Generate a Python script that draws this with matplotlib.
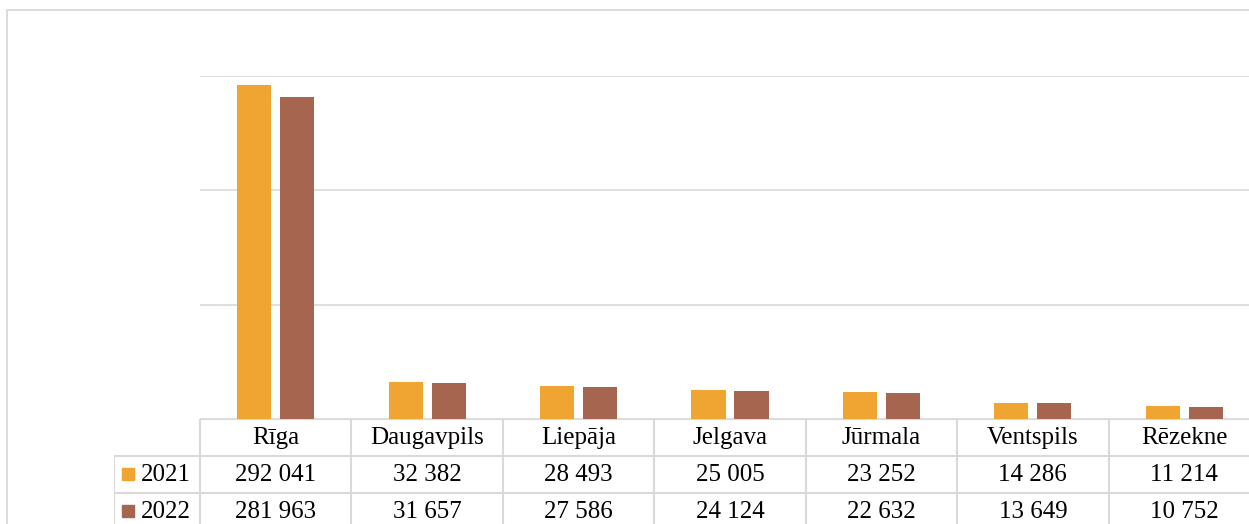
import numpy as np
import matplotlib
matplotlib.use('Agg')
import matplotlib.pyplot as plt
from matplotlib.patches import Rectangle

# data
cities = ['Rīga', 'Daugavpils', 'Liepāja', 'Jelgava', 'Jūrmala', 'Ventspils', 'Rēzekne']
years = ['2021', '2022']
vals_2021 = [292041, 32382, 28493, 25005, 23252, 14286, 11214]
vals_2022 = [281963, 31657, 27586, 24124, 22632, 13649, 10752]
colors = ['#F0A431', '#A6654F']
grid_c = '#d9d9d9'

plt.rcParams['font.family'] = ['Liberation Serif', 'DejaVu Serif']

W, H = 1249, 524
fig = plt.figure(figsize=(W / 100, H / 100), dpi=100)


def px_box(x0, y0, x1, y1):
    # pixel box (top-left origin) -> figure fraction
    return [x0 / W, 1 - y1 / H, (x1 - x0) / W, (y1 - y0) / H]


# outer chart border (runs off the right and bottom edge)
fig.add_artist(Rectangle((7 / W, 1 - 540 / H), 1260 / W, 530 / H,
                         transform=fig.transFigure, fill=False,
                         edgecolor=grid_c, linewidth=1.3))

ax = fig.add_axes(px_box(200, 76, 1260, 419))
x = np.arange(len(cities))
w = 0.225
ax.bar(x - 0.142, vals_2021, w, color=colors[0], zorder=3)
ax.bar(x + 0.142, vals_2022, w, color=colors[1], zorder=3)
ax.set_xlim(-0.5, len(cities) - 0.5)
ax.set_ylim(0, 300000)
ax.set_yticks([0, 100000, 200000, 300000])
ax.grid(axis='y', color=grid_c, linewidth=1.2)
ax.tick_params(left=False, bottom=False, labelleft=False, labelbottom=False)
for s in ax.spines.values():
    s.set_visible(False)

# data table below the plot
unit = 1060 / len(cities)
leg_w = 86 / unit
tab = fig.add_axes(px_box(114, 419, 1260, 530))
tab.set_xlim(-0.5 - leg_w, len(cities) - 0.5)
tab.set_ylim(3, 0)
tab.axis('off')

lk = dict(color=grid_c, linewidth=1.5, solid_capstyle='projecting')
# horizontal rules
tab.plot([-0.5, len(cities) - 0.5], [0, 0], **lk)
for r in [1, 2, 3]:
    tab.plot([-0.5 - leg_w, len(cities) - 0.5], [r, r], **lk)
# vertical rules
tab.plot([-0.5 - leg_w, -0.5 - leg_w], [1, 3], **lk)
for i in range(len(cities) + 1):
    tab.plot([i - 0.5, i - 0.5], [0, 3], **lk)

fs = 18
for i, c in enumerate(cities):
    tab.text(i, 0.5, c, ha='center', va='center', fontsize=fs)
for r, vals in enumerate([vals_2021, vals_2022]):
    for i, v in enumerate(vals):
        tab.text(i, r + 1.52, f'{v:,}'.replace(',', ' '), ha='center',
                 va='center', fontsize=fs)

for r, (yr, col) in enumerate(zip(years, colors)):
    y0 = 419 + 37 * (r + 1) + 12
    fig.add_artist(Rectangle((122 / W, 1 - (y0 + 12) / H), 12 / W, 12 / H,
                             transform=fig.transFigure, color=col))
    tab.text(-0.5 - leg_w + 27 / unit, r + 1.52, yr, ha='left', va='center',
             fontsize=fs)

fig.savefig('out.png', dpi=100)
